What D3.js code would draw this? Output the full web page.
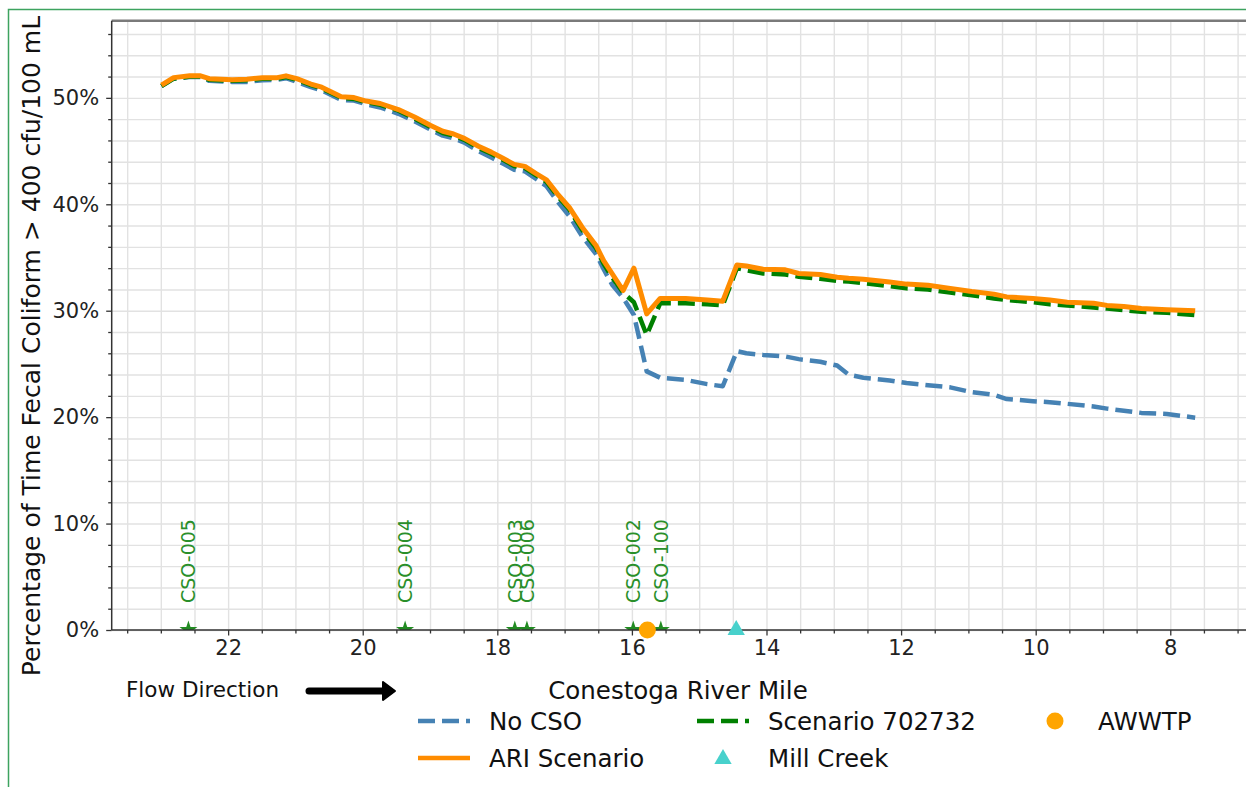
<!DOCTYPE html>
<html>
<head>
<meta charset="utf-8">
<script src="https://cdn.jsdelivr.net/npm/d3@7"></script>
<style>
  body { margin: 0; background: #fff; }
  svg { display: block; font-family: "DejaVu Sans", sans-serif; }
</style>
</head>
<body>
<svg id="chart" width="1246" height="787"></svg>
<script>
// River mile of each model node (flow goes from high mile to low mile)
var miles = [22.99, 22.81, 22.57, 22.41, 22.28, 21.94, 21.72, 21.49, 21.27, 21.14,
             20.98, 20.77, 20.61, 20.32, 20.13, 19.95, 19.74, 19.47, 19.23, 18.99,
             18.81, 18.65, 18.49, 18.28, 18.09, 17.91, 17.75, 17.59, 17.43, 17.27,
             17.11, 16.93, 16.74, 16.53, 16.42, 16.29, 16.13, 15.97, 15.78, 15.58,
             15.20, 14.88, 14.65, 14.44, 14.30, 14.05, 13.72, 13.52, 13.20, 12.95,
             12.78, 12.56, 12.17, 11.92, 11.60, 11.27, 10.95, 10.62, 10.43, 10.04,
             9.79, 9.53, 9.14, 8.94, 8.69, 8.43, 8.05, 7.63];

// % of time fecal coliform > 400 cfu/100 mL
var noCso = [51.1, 51.8, 51.95, 51.95, 51.6, 51.5, 51.5, 51.65, 51.7, 51.85,
             51.5, 51.0, 50.7, 49.8, 49.75, 49.4, 49.1, 48.5, 47.8, 47.0,
             46.45, 46.2, 45.8, 45.0, 44.4, 43.8, 43.25, 43.1, 42.4, 41.7,
             40.3, 38.9, 37.0, 35.3, 33.9, 32.4, 31.2, 29.6, 24.3, 23.7,
             23.5, 23.1, 22.9, 26.2, 26.0, 25.85, 25.7, 25.45, 25.2, 24.85,
             24.0, 23.7, 23.45, 23.2, 23.0, 22.8, 22.35, 22.1, 21.7, 21.5,
             21.4, 21.25, 21.0, 20.8, 20.6, 20.4, 20.3, 19.95];

var ariScenario = [51.2, 51.9, 52.07, 52.07, 51.8, 51.7, 51.75, 51.9, 51.9, 52.07,
                   51.8, 51.3, 51.0, 50.1, 50.03, 49.7, 49.47, 48.9, 48.2, 47.4,
                   46.86, 46.6, 46.2, 45.45, 44.9, 44.3, 43.75, 43.56, 42.9, 42.3,
                   41.0, 39.7, 37.85, 36.1, 34.7, 33.45, 31.9, 34.0, 29.7, 31.15,
                   31.15, 31.0, 30.9, 34.3, 34.2, 33.9, 33.84, 33.5, 33.4, 33.15,
                   33.05, 32.96, 32.7, 32.5, 32.4, 32.1, 31.8, 31.56, 31.3, 31.15,
                   31.0, 30.8, 30.7, 30.5, 30.4, 30.2, 30.1, 30.0];

var scenario702732 = [51.1, 51.8, 52.0, 52.0, 51.7, 51.6, 51.65, 51.8, 51.8, 51.95,
                      51.7, 51.2, 50.9, 50.0, 49.9, 49.6, 49.35, 48.8, 48.05, 47.25,
                      46.7, 46.45, 46.05, 45.3, 44.75, 44.15, 43.6, 43.4, 42.75, 42.1,
                      40.8, 39.5, 37.6, 35.85, 34.4, 33.1, 31.7, 30.8, 27.7, 30.7,
                      30.7, 30.6, 30.5, 34.0, 33.8, 33.5, 33.4, 33.2, 33.0, 32.8,
                      32.75, 32.6, 32.3, 32.1, 32.0, 31.7, 31.45, 31.15, 31.0, 30.8,
                      30.6, 30.5, 30.3, 30.2, 30.05, 29.9, 29.8, 29.6];

// Outfalls and tributaries along the river
var csoNames = ["CSO-005", "CSO-004", "CSO-003", "CSO-006", "CSO-002", "CSO-100"];
var csoMiles = [22.59, 19.37, 17.74, 17.56, 15.98, 15.57];
var awwtpMiles = [15.77];
var millCreekMiles = [14.45];

var xTicks = [22, 20, 18, 16, 14, 12, 10, 8];
var yTicks = [0, 10, 20, 30, 40, 50];

var svg = d3.select("#chart");

// plot box in pixels (note: "top" is reserved on window, so use other names)
var pLeft = 111.7, pRight = 1247, pTop = 20.7, pBottom = 630;

var x = d3.scaleLinear().domain([23.73, 6.86]).range([pLeft, pRight]);
var y = d3.scaleLinear().domain([0, 57.25]).range([pBottom, pTop]);

// outer green frame of the picture
svg.append("rect")
	.attr("x", 8.5).attr("y", 9.5)
	.attr("width", 1400).attr("height", 1000)
	.attr("fill", "none")
	.attr("stroke", "#3da35f")
	.attr("stroke-width", 1.5);

svg.append("clipPath").attr("id", "plotclip")
	.append("rect")
	.attr("x", pLeft).attr("y", pTop)
	.attr("width", pRight - pLeft).attr("height", pBottom - pTop);

// minor grid every half mile and every 2 %
var xMinor = d3.range(23.5, 6.9, -0.5);
var yMinor = d3.range(0, 57, 2);

svg.append("g")
	.attr("class", "grid")
	.attr("transform", "translate(0," + pBottom + ")")
	.call(d3.axisBottom(x).tickValues(xMinor).tickSize(-(pBottom - pTop)).tickFormat(""))
	.call(function(g) { g.select(".domain").remove(); })
	.selectAll("line").attr("stroke", "#e2e2e2").attr("stroke-width", 1.4);

svg.append("g")
	.attr("class", "grid")
	.attr("transform", "translate(" + pLeft + ",0)")
	.call(d3.axisLeft(y).tickValues(yMinor).tickSize(-(pRight - pLeft)).tickFormat(""))
	.call(function(g) { g.select(".domain").remove(); })
	.selectAll("line").attr("stroke", "#e2e2e2").attr("stroke-width", 1.4);

// the three scenario lines
var series = [
	{ name: "No CSO", values: noCso, color: "#4682b4", dash: "17,7", width: 4.5 },
	{ name: "Scenario 702732", values: scenario702732, color: "#008000", dash: "17,7", width: 4.5 },
	{ name: "ARI Scenario", values: ariScenario, color: "#ff8c00", dash: null, width: 5 }
];

var line = d3.line()
	.x(function(d) { return x(d[0]); })
	.y(function(d) { return y(d[1]); });

var plot = svg.append("g").attr("clip-path", "url(#plotclip)");

series.forEach(function(s) {
	plot.append("path")
		.datum(miles.map(function(m, i) { return [m, s.values[i]]; }))
		.attr("fill", "none")
		.attr("stroke", s.color)
		.attr("stroke-width", s.width)
		.attr("stroke-dasharray", s.dash)
		.attr("stroke-linejoin", "round")
		.attr("d", line);
});

// CSO stars sit on the axis, only their top half shows
plot.selectAll(".cso")
	.data(csoMiles)
	.enter().append("path")
	.attr("class", "cso")
	.attr("transform", function(d) { return "translate(" + x(d) + "," + y(0) + ")"; })
	.attr("d", d3.symbol(d3.symbolStar).size(100))
	.attr("fill", "#228b22");

svg.selectAll(".csolabel")
	.data(csoMiles)
	.enter().append("text")
	.attr("class", "csolabel")
	.attr("transform", function(d) { return "translate(" + x(d) + "," + (y(0) - 27) + ") rotate(-90)"; })
	.attr("text-anchor", "start")
	.attr("dominant-baseline", "central")
	.attr("font-size", 19)
	.attr("fill", "#2a8f2a")
	.text(function(d, i) { return csoNames[i]; });

// axes
var xAxis = svg.append("g")
	.attr("transform", "translate(0," + pBottom + ")")
	.call(d3.axisBottom(x).tickValues(xTicks).tickSize(5.5).tickPadding(5).tickFormat(d3.format("d")));
svg.append("g")
	.attr("transform", "translate(0," + pBottom + ")")
	.call(d3.axisBottom(x).tickValues(xMinor.filter(function(v) { return v % 2 != 0; })).tickSize(3.5).tickFormat(""))
	.call(function(g) { g.select(".domain").remove(); });

var yAxis = svg.append("g")
	.attr("transform", "translate(" + pLeft + ",0)")
	.call(d3.axisLeft(y).tickValues(yTicks).tickSize(5.5).tickPadding(7).tickFormat(function(d) { return d + "%"; }));
svg.append("g")
	.attr("transform", "translate(" + pLeft + ",0)")
	.call(d3.axisLeft(y).tickValues(yMinor.filter(function(v) { return v % 10 != 0; })).tickSize(3.5).tickFormat(""))
	.call(function(g) { g.select(".domain").remove(); });

svg.selectAll(".tick text").attr("font-size", 21).attr("fill", "#222").attr("font-family", "DejaVu Sans");
svg.selectAll(".tick line").filter(function() { return !this.closest(".grid"); })
	.attr("stroke", "#333").attr("stroke-width", 1.3);
xAxis.select(".domain").remove();
yAxis.select(".domain").remove();

// spines
svg.append("line").attr("x1", pLeft).attr("x2", pRight).attr("y1", pTop).attr("y2", pTop)
	.attr("stroke", "#7a7a7a").attr("stroke-width", 2.5);
svg.append("line").attr("x1", pLeft).attr("x2", pLeft).attr("y1", pTop).attr("y2", pBottom)
	.attr("stroke", "#333").attr("stroke-width", 1.5);
svg.append("line").attr("x1", pLeft).attr("x2", pRight).attr("y1", pBottom).attr("y2", pBottom)
	.attr("stroke", "#333").attr("stroke-width", 1.5);

// AWWTP and Mill Creek markers drawn over the axis
svg.selectAll(".awwtp")
	.data(awwtpMiles)
	.enter().append("circle")
	.attr("cx", function(d) { return x(d); })
	.attr("cy", y(0))
	.attr("r", 8.5)
	.attr("fill", "#ffa500");

svg.selectAll(".mill")
	.data(millCreekMiles)
	.enter().append("path")
	.attr("transform", function(d) { return "translate(" + x(d) + "," + y(0) + ")"; })
	.attr("d", d3.symbol(d3.symbolTriangle).size(130))
	.attr("fill", "#48d1cc");

// axis titles
svg.append("text")
	.attr("transform", "translate(40,346) rotate(-90)")
	.attr("text-anchor", "middle")
	.attr("font-size", 25)
	.attr("fill", "#111")
	.text("Percentage of Time Fecal Coliform > 400 cfu/100 mL");

svg.append("text")
	.attr("x", 678).attr("y", 699)
	.attr("text-anchor", "middle")
	.attr("font-size", 24.5)
	.attr("fill", "#111")
	.text("Conestoga River Mile");

svg.append("text")
	.attr("x", 126).attr("y", 697)
	.attr("font-size", 21.5)
	.attr("fill", "#111")
	.text("Flow Direction");

// flow arrow
svg.append("line")
	.attr("x1", 309).attr("x2", 386).attr("y1", 691).attr("y2", 691)
	.attr("stroke", "#000").attr("stroke-width", 7).attr("stroke-linecap", "round");
svg.append("path")
	.attr("d", "M383,682 L395,691 L383,700 Z")
	.attr("fill", "#000").attr("stroke", "#000").attr("stroke-width", 2).attr("stroke-linejoin", "round");

// legend, three columns
var legendItems = [
	{ label: "No CSO", kind: "line", color: "#4682b4", dash: "17,7", x: 418, y: 721 },
	{ label: "ARI Scenario", kind: "line", color: "#ff8c00", dash: null, x: 418, y: 758 },
	{ label: "Scenario 702732", kind: "line", color: "#008000", dash: "17,7", x: 697, y: 721 },
	{ label: "Mill Creek", kind: "triangle", color: "#48d1cc", x: 697, y: 758 },
	{ label: "AWWTP", kind: "circle", color: "#ffa500", x: 1030, y: 721 }
];

var legend = svg.append("g").attr("class", "legend");
legendItems.forEach(function(it) {
	var g = legend.append("g").attr("transform", "translate(" + it.x + "," + it.y + ")");
	if (it.kind == "line") {
		g.append("line").attr("x1", 0).attr("x2", 52).attr("y1", 0).attr("y2", 0)
			.attr("stroke", it.color).attr("stroke-width", 4.5).attr("stroke-dasharray", it.dash);
	} else if (it.kind == "triangle") {
		g.append("path").attr("transform", "translate(26,1)")
			.attr("d", d3.symbol(d3.symbolTriangle).size(130)).attr("fill", it.color);
	} else {
		g.append("circle").attr("cx", 25).attr("cy", 0).attr("r", 8.5).attr("fill", it.color);
	}
	g.append("text")
		.attr("x", it.kind == "circle" ? 68 : 71)
		.attr("y", 0)
		.attr("dy", "0.36em")
		.attr("font-size", 24.5)
		.attr("fill", "#111")
		.text(it.label);
});
</script>
</body>
</html>
